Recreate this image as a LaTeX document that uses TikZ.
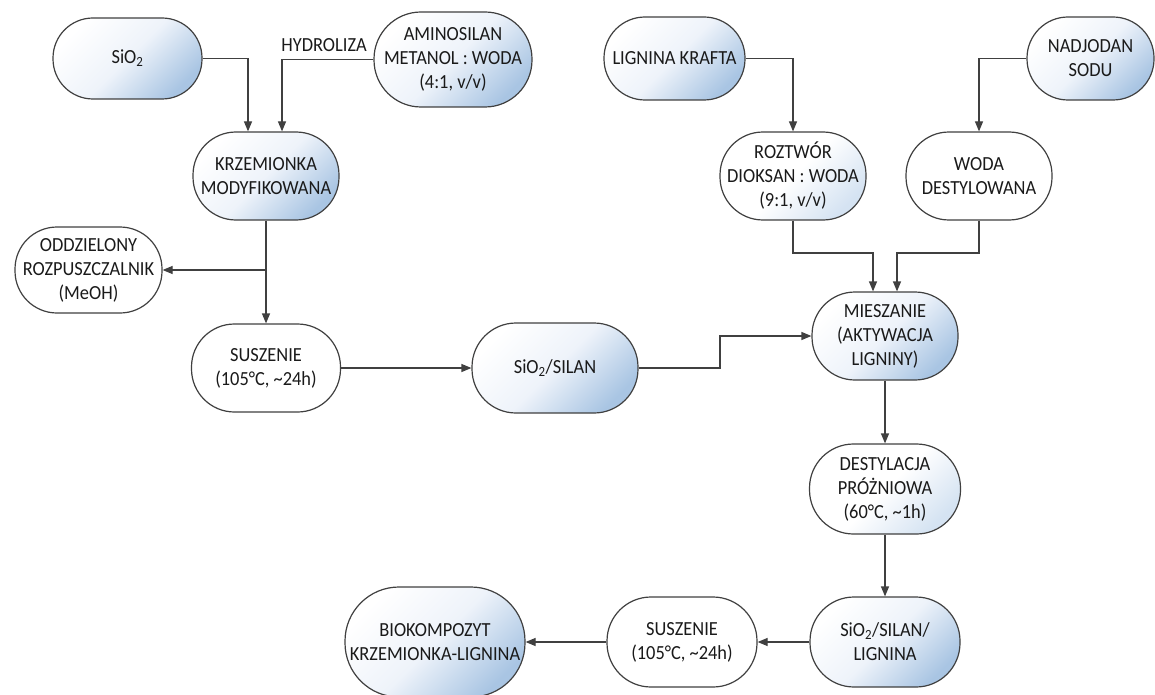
\documentclass[tikz,border=0pt]{standalone}
\usepackage{fontspec}
\setmainfont{Carlito}[FakeStretch=0.92]
\usetikzlibrary{arrows.meta}
\definecolor{linec}{HTML}{404040}
\definecolor{textc}{HTML}{1A1A1A}
\definecolor{gblue}{HTML}{A9C5E3}
\definecolor{gmid}{HTML}{EEF3FA}
\definecolor{lblue}{HTML}{D5E3F2}
\tikzset{
  box/.style={draw=linec, line width=1.2pt, rectangle, align=center, inner sep=0pt,
    text=textc, font=\fontsize{20}{24}\selectfont},
  grad/.style={box, top color=white, bottom color=gblue, middle color=gmid, shading angle=45},
  light/.style={box, top color=white, bottom color=lblue, middle color=white, shading angle=45},
  plain/.style={box, fill=white},
  arr/.style={draw=linec, line width=1.2pt, -{Triangle[length=10pt,width=8pt]}},
  ln/.style={draw=linec, line width=1.2pt},
  lbl/.style={text=textc, font=\fontsize{20}{24}\selectfont, inner sep=0pt}
}
\begin{document}
\begin{tikzpicture}[x=1pt,y=-1pt]
\useasboundingbox (0,0) rectangle (1155,695);
% nodes
\node[grad, minimum width=149pt, minimum height=81pt, rounded corners=40pt] (sio2) at (127.5,58.5) {SiO\textsubscript{2}};
\node[grad, minimum width=158pt, minimum height=95pt, rounded corners=47pt] (amino) at (453,59.5) {AMINOSILAN\\METANOL : WODA\\(4:1, v/v)};
\node[grad, minimum width=141pt, minimum height=83pt, rounded corners=41pt] (lign) at (674.5,58.5) {LIGNINA KRAFTA};
\node[grad, minimum width=127pt, minimum height=83pt, rounded corners=41pt] (nadj) at (1090.5,58.5) {NADJODAN\\SODU};
\node[grad, minimum width=146pt, minimum height=88pt, rounded corners=43pt] (krzem) at (266,176) {KRZEMIONKA\\MODYFIKOWANA};
\node[plain, minimum width=147pt, minimum height=86pt, rounded corners=42pt] (oddz) at (88.5,270) {ODDZIELONY\\ROZPUSZCZALNIK\\(MeOH)};
\node[plain, minimum width=149pt, minimum height=88pt, rounded corners=43pt] (susz1) at (266,368) {SUSZENIE\\(105°C, \textasciitilde24h)};
\node[grad, minimum width=166pt, minimum height=90pt, rounded corners=44pt] (sisil) at (555,368) {SiO\textsubscript{2}/SILAN};
\node[light, minimum width=146pt, minimum height=88pt, rounded corners=43pt] (roztw) at (793,176) {ROZTWÓR\\DIOKSAN : WODA\\(9:1, v/v)};
\node[plain, minimum width=146pt, minimum height=88pt, rounded corners=43pt] (woda) at (979,176) {WODA\\DESTYLOWANA};
\node[grad, minimum width=146pt, minimum height=88pt, rounded corners=43pt] (miesz) at (885,336) {MIESZANIE\\(AKTYWACJA\\LIGNINY)};
\node[light, minimum width=151pt, minimum height=90pt, rounded corners=44pt] (destyl) at (885,489) {DESTYLACJA\\PRÓŻNIOWA\\(60°C, \textasciitilde1h)};
\node[grad, minimum width=150pt, minimum height=90pt, rounded corners=44pt] (sisillig) at (885,642) {SiO\textsubscript{2}/SILAN/\\LIGNINA};
\node[plain, minimum width=150pt, minimum height=90pt, rounded corners=44pt] (susz2) at (682,642) {SUSZENIE\\(105°C, \textasciitilde24h)};
\node[grad, minimum width=180pt, minimum height=110pt, rounded corners=54pt] (bio) at (435,642) {BIOKOMPOZYT\\KRZEMIONKA-LIGNINA};
% connectors
\draw[arr] (sio2.east) -| ([xshift=-18pt]krzem.north);
\draw[arr] (amino.west) -| node[lbl, pos=0.27, above=7pt] (hydro) {HYDROLIZA} ([xshift=16pt]krzem.north);
\draw[arr] (krzem.south) -- (susz1.north);
\coordinate (j1) at (krzem.south |- oddz.east);
\draw[arr] (j1) -- (oddz.east);
\draw[arr] (susz1.east) -- (sisil.west);
\coordinate (j2) at (720,368);
\draw[arr] (sisil.east) -- (j2) |- (miesz.west);
\draw[arr] (lign.east) -| (roztw.north);
\draw[arr] (nadj.west) -| (woda.north);
\coordinate (j3) at (793,253);
\coordinate (j4) at (979,253);
\draw[arr] (roztw.south) -- (j3) -| ([xshift=-12pt]miesz.north);
\draw[arr] (woda.south) -- (j4) -| ([xshift=12pt]miesz.north);
\draw[arr] (miesz.south) -- (destyl.north);
\draw[arr] (destyl.south) -- (sisillig.north);
\draw[arr] (sisillig.west) -- (susz2.east);
\draw[arr] (susz2.west) -- (bio.east);
\end{tikzpicture}
\end{document}
